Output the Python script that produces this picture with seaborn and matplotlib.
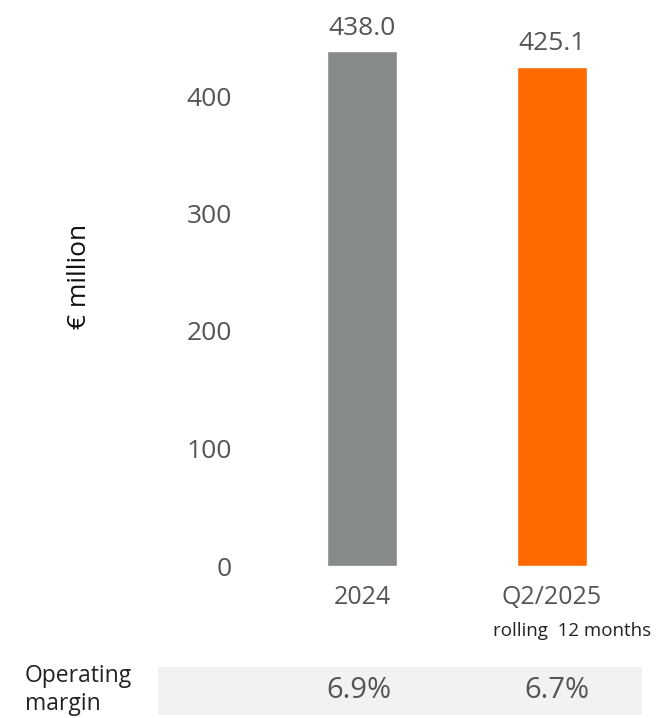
import pandas as pd
import seaborn as sns
import matplotlib.pyplot as plt
from matplotlib.patches import Rectangle

# data
categories = ['2024', 'Q2/2025']
values = [438.0, 425.1]
value_labels = ['438.0', '425.1']
margins = ['6.9%', '6.7%']
bar_colors = ['#878a8a', '#ff6a00']
yticks = [0, 100, 200, 300, 400]

df = pd.DataFrame({'period': categories, 'value': values})

sns.set_style('white')
plt.rcParams['font.family'] = ['Open Sans', 'DejaVu Sans']

W, H = 659, 718
fig = plt.figure(figsize=(W / 100, H / 100), dpi=100)

# axes placed in pixel terms: left 250, right 640, top 30, bottom 566
ax = fig.add_axes([250 / W, 1 - 566 / H, 390 / W, (566 - 30) / H])
sns.barplot(data=df, x='period', y='value', hue='period', palette=bar_colors,
            width=0.368, legend=False, ax=ax, saturation=1)

ax.set_xlim(-112 / 190, 1 + 88 / 190)
ax.set_ylim(0, 536 / 1.175)
ax.set_yticks(yticks)
ax.set_yticklabels([str(t) for t in yticks], fontsize=19, color='#555555')
ax.tick_params(axis='y', length=0, pad=13)
ax.tick_params(axis='x', length=0, pad=14, labelsize=18, labelcolor='#555555')
ax.set_xlabel('')
ax.set_ylabel('')
sns.despine(ax=ax, left=True, bottom=True)

fig.text(79 / W, 1 - 276 / H, '€ million', rotation=90, ha='center', va='center',
         fontsize=19, color='#111111')

for i, (v, lab) in enumerate(zip(values, value_labels)):
    ax.text(i, v + 14, lab, ha='center', va='baseline', fontsize=19, color='#555555')

# sub label under the second category
fig.text(572 / W, 1 - 631 / H, 'rolling  12 months', ha='center', va='center',
         fontsize=13.5, color='#222222')

# margin band
fig.patches.append(Rectangle((158 / W, 1 - 715 / H), 484 / W, 48 / H,
                             transform=fig.transFigure, facecolor='#f2f2f2',
                             edgecolor='none', zorder=0))
fig.text(25 / W, 1 - 690 / H, 'Operating\nmargin', ha='left', va='center',
         fontsize=16.5, color='#222222', linespacing=1.2)
for xpix, m in zip([359, 557], margins):
    fig.text(xpix / W, 1 - 691 / H, m, ha='center', va='center',
             fontsize=21, color='#555555')

fig.savefig('out.png', dpi=100)
